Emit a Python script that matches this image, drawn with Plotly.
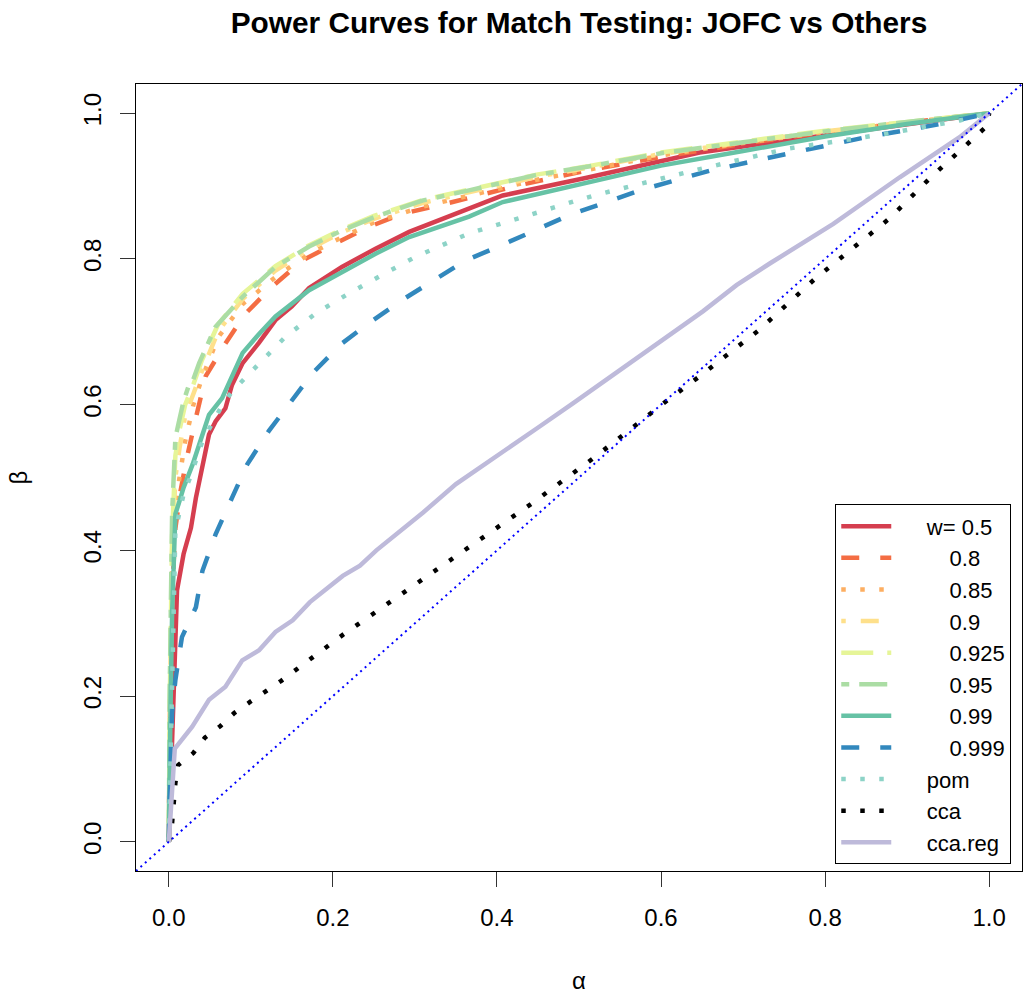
import plotly.graph_objects as go

# ---------------- data ----------------
alpha_w050 = [0, 0.003, 0.007, 0.010, 0.018, 0.027, 0.033, 0.041, 0.049, 0.057, 0.069, 0.077, 0.090,
              0.110, 0.130, 0.150, 0.171, 0.211, 0.252, 0.293, 0.350, 0.407, 0.508, 0.600, 0.647,
              0.769, 0.891, 1.0]
beta_w050 = [0, 0.100, 0.222, 0.345, 0.395, 0.431, 0.472, 0.518, 0.559, 0.577, 0.595, 0.627, 0.657,
             0.685, 0.716, 0.735, 0.760, 0.789, 0.814, 0.837, 0.862, 0.887, 0.911, 0.935, 0.946,
             0.965, 0.983, 1.0]

alpha_w080 = [0, 0.001, 0.004, 0.008, 0.014, 0.022, 0.033, 0.045, 0.069, 0.0935, 0.126, 0.163, 0.203,
              0.244, 0.285, 0.346, 0.427, 0.508, 0.600, 0.700, 0.800, 0.900, 1.0]
beta_w080 = [0, 0.140, 0.340, 0.430, 0.480, 0.527, 0.582, 0.639, 0.684, 0.725, 0.762, 0.798, 0.821,
             0.844, 0.862, 0.878, 0.901, 0.921, 0.940, 0.958, 0.974, 0.987, 1.0]

alpha_grid_hi = [0, 0.001, 0.004, 0.008, 0.013, 0.020, 0.030, 0.040, 0.060, 0.090, 0.130, 0.170, 0.210,
                 0.250, 0.310, 0.370, 0.450, 0.510, 0.600, 0.700, 0.800, 0.900, 1.0]
beta_w085 = [0, 0.150, 0.370, 0.460, 0.500, 0.550, 0.600, 0.635, 0.692, 0.738, 0.775, 0.806, 0.829,
             0.850, 0.872, 0.888, 0.909, 0.922, 0.942, 0.959, 0.974, 0.987, 1.0]
beta_w090 = [0, 0.160, 0.400, 0.500, 0.540, 0.585, 0.615, 0.645, 0.700, 0.745, 0.784, 0.813, 0.836,
             0.855, 0.877, 0.892, 0.913, 0.925, 0.944, 0.960, 0.975, 0.987, 1.0]
beta_w0925 = [0, 0.180, 0.420, 0.530, 0.565, 0.600, 0.628, 0.660, 0.710, 0.752, 0.790, 0.818, 0.840,
              0.859, 0.881, 0.896, 0.916, 0.927, 0.946, 0.961, 0.976, 0.988, 1.0]

alpha_w095 = [0, 0.001, 0.004, 0.008, 0.012, 0.018, 0.024, 0.029, 0.037, 0.057, 0.090, 0.130, 0.171,
              0.211, 0.252, 0.309, 0.366, 0.403, 0.447, 0.508, 0.600, 0.700, 0.800, 0.900, 1.0]
beta_w095 = [0, 0.200, 0.450, 0.554, 0.575, 0.605, 0.625, 0.632, 0.657, 0.707, 0.748, 0.789, 0.817,
             0.839, 0.858, 0.880, 0.894, 0.903, 0.915, 0.926, 0.945, 0.960, 0.975, 0.988, 1.0]

alpha_w099 = [0, 0.0005, 0.002, 0.004, 0.008, 0.012, 0.018, 0.029, 0.041, 0.049, 0.065, 0.073, 0.090,
              0.110, 0.130, 0.171, 0.211, 0.252, 0.293, 0.366, 0.407, 0.508, 0.600, 0.700, 0.800,
              0.900, 1.0]
beta_w099 = [0, 0.085, 0.177, 0.313, 0.450, 0.464, 0.486, 0.518, 0.559, 0.586, 0.609, 0.630, 0.671,
             0.697, 0.721, 0.757, 0.782, 0.807, 0.830, 0.858, 0.878, 0.905, 0.928, 0.948, 0.968,
             0.985, 1.0]

alpha_w0999 = [0, 0.0005, 0.004, 0.008, 0.016, 0.033, 0.041, 0.057, 0.077, 0.0956, 0.122, 0.142, 0.175,
               0.211, 0.244, 0.285, 0.317, 0.362, 0.402, 0.443, 0.488, 0.574, 0.659, 0.753, 0.850,
               0.940, 1.0]
beta_w0999 = [0, 0.040, 0.177, 0.222, 0.281, 0.322, 0.372, 0.422, 0.472, 0.518, 0.564, 0.593, 0.643,
              0.684, 0.712, 0.744, 0.766, 0.798, 0.817, 0.837, 0.860, 0.894, 0.921, 0.944, 0.967,
              0.985, 1.0]

alpha_pom = [0, 0.002, 0.004, 0.006, 0.008, 0.018, 0.026, 0.041, 0.063, 0.077, 0.110, 0.142, 0.179,
             0.220, 0.260, 0.301, 0.366, 0.431, 0.500, 0.525, 0.639, 0.753, 0.871, 0.964, 1.0]
beta_pom = [0, 0.100, 0.176, 0.313, 0.427, 0.477, 0.500, 0.550, 0.595, 0.618, 0.657, 0.693, 0.725,
            0.753, 0.778, 0.803, 0.835, 0.858, 0.881, 0.889, 0.921, 0.951, 0.971, 0.990, 1.0]

alpha_cca = [0, 0.004, 0.008, 0.011, 0.030, 0.044, 0.063, 0.080, 0.099, 0.118, 0.137, 0.212, 0.289,
             0.365, 0.442, 0.517, 0.572, 0.609, 0.646, 0.683, 0.719, 0.787, 0.824, 0.878, 0.928,
             0.997, 1.0]
beta_cca = [0, 0.026, 0.081, 0.105, 0.122, 0.143, 0.159, 0.177, 0.192, 0.207, 0.221, 0.284, 0.344,
            0.403, 0.464, 0.526, 0.575, 0.607, 0.638, 0.670, 0.702, 0.772, 0.805, 0.855, 0.911,
            0.982, 1.0]

alpha_ccareg = [0, 0.0073, 0.0285, 0.049, 0.069, 0.0895, 0.110, 0.130, 0.151, 0.172, 0.212, 0.233,
                0.253, 0.290, 0.310, 0.350, 0.371, 0.411, 0.452, 0.493, 0.531, 0.572, 0.611, 0.651,
                0.692, 0.733, 0.810, 0.891, 0.964, 1.0]
beta_ccareg = [0, 0.128, 0.158, 0.195, 0.213, 0.249, 0.263, 0.288, 0.304, 0.329, 0.365, 0.379,
               0.400, 0.434, 0.452, 0.491, 0.507, 0.539, 0.570, 0.602, 0.632, 0.666, 0.696, 0.728,
               0.764, 0.794, 0.848, 0.912, 0.967, 1.0]

axis_range = [-0.04, 1.04]
tick_vals = [0.0, 0.2, 0.4, 0.6, 0.8, 1.0]
tick_text = ["0.0", "0.2", "0.4", "0.6", "0.8", "1.0"]

PAD = "\u00a0" * 5                 # gap between legend sample and its text
NB = "\u00a0\u00a0\u00a0\u2009"    # indentation used by the w-values
series = [
    (PAD + "w= 0.5", alpha_w050, beta_w050, "#D53E4F", "solid"),
    (PAD + NB + "0.8", alpha_w080, beta_w080, "#F46D43", "18px,21px"),
    (PAD + NB + "0.85", alpha_grid_hi, beta_w085, "#FDAE61", "4.5px,14.5px"),
    (PAD + NB + "0.9", alpha_grid_hi, beta_w090, "#FEE08B", "4.5px,15px,18px,15px"),
    (PAD + NB + "0.925", alpha_grid_hi, beta_w0925, "#E6F598", "32px,14px"),
    (PAD + NB + "0.95", alpha_w095, beta_w095, "#ABDDA4", "8px,10px,28px,10px"),
    (PAD + NB + "0.99", alpha_w099, beta_w099, "#66C2A5", "solid"),
    (PAD + NB + "0.999", alpha_w0999, beta_w0999, "#3288BD", "18px,21px"),
    (PAD + "pom", alpha_pom, beta_pom, "#8DD3C7", "4.5px,14.5px"),
    (PAD + "cca", alpha_cca, beta_cca, "#000000", "4.5px,14.5px"),
    (PAD + "cca.reg", alpha_ccareg, beta_ccareg, "#BEBADA", "solid"),
]

FONT = "Liberation Sans, Arial, sans-serif"
fig = go.Figure()
for name, xs, ys, col, dash in series:
    fig.add_trace(go.Scatter(x=xs, y=ys, mode="lines", name=name,
                             line=dict(color=col, width=4.5, dash=dash)))

# identity reference line (abline 0,1)
fig.add_trace(go.Scatter(x=axis_range, y=axis_range, mode="lines", showlegend=False,
                         line=dict(color="#0000FF", width=2, dash="2px,4px")))

axis_common = dict(range=axis_range, tickvals=tick_vals, ticktext=tick_text,
                   ticks="outside", ticklen=15, tickwidth=1.2, tickcolor="#333333",
                   showgrid=False, zeroline=False, showline=True, mirror=True,
                   linecolor="#000000", linewidth=1.2,
                   tickfont=dict(family=FONT, size=24, color="#000000"))

fig.update_layout(
    width=1023, height=994,
    margin=dict(l=136, r=1, t=84, b=123, autoexpand=False),
    paper_bgcolor="white", plot_bgcolor="white",
    title=dict(text="<b>Power Curves for Match Testing: JOFC vs Others</b>",
               x=0.5, xref="paper", y=1 - 23 / 994, yref="container", yanchor="middle",
               font=dict(family=FONT, size=29.8, color="#000000")),
    xaxis=dict(**axis_common, title=dict(text="α", standoff=42,
                                         font=dict(family=FONT, size=24, color="#000000")),
               automargin=False, ticklabelstandoff=10),
    yaxis=dict(**axis_common, tickangle=-90, title=dict(text="β", standoff=44,
                                                        font=dict(family=FONT, size=24, color="#000000")),
               automargin=False, ticklabelstandoff=9),
    legend=dict(x=0.789, y=0.466, xanchor="left", yanchor="top",
                bordercolor="#000000", borderwidth=1.2, bgcolor="white",
                font=dict(family=FONT, size=22, color="#000000"),
                itemwidth=50, tracegroupgap=0),
    showlegend=True,
)

fig.write_html("out.html")
